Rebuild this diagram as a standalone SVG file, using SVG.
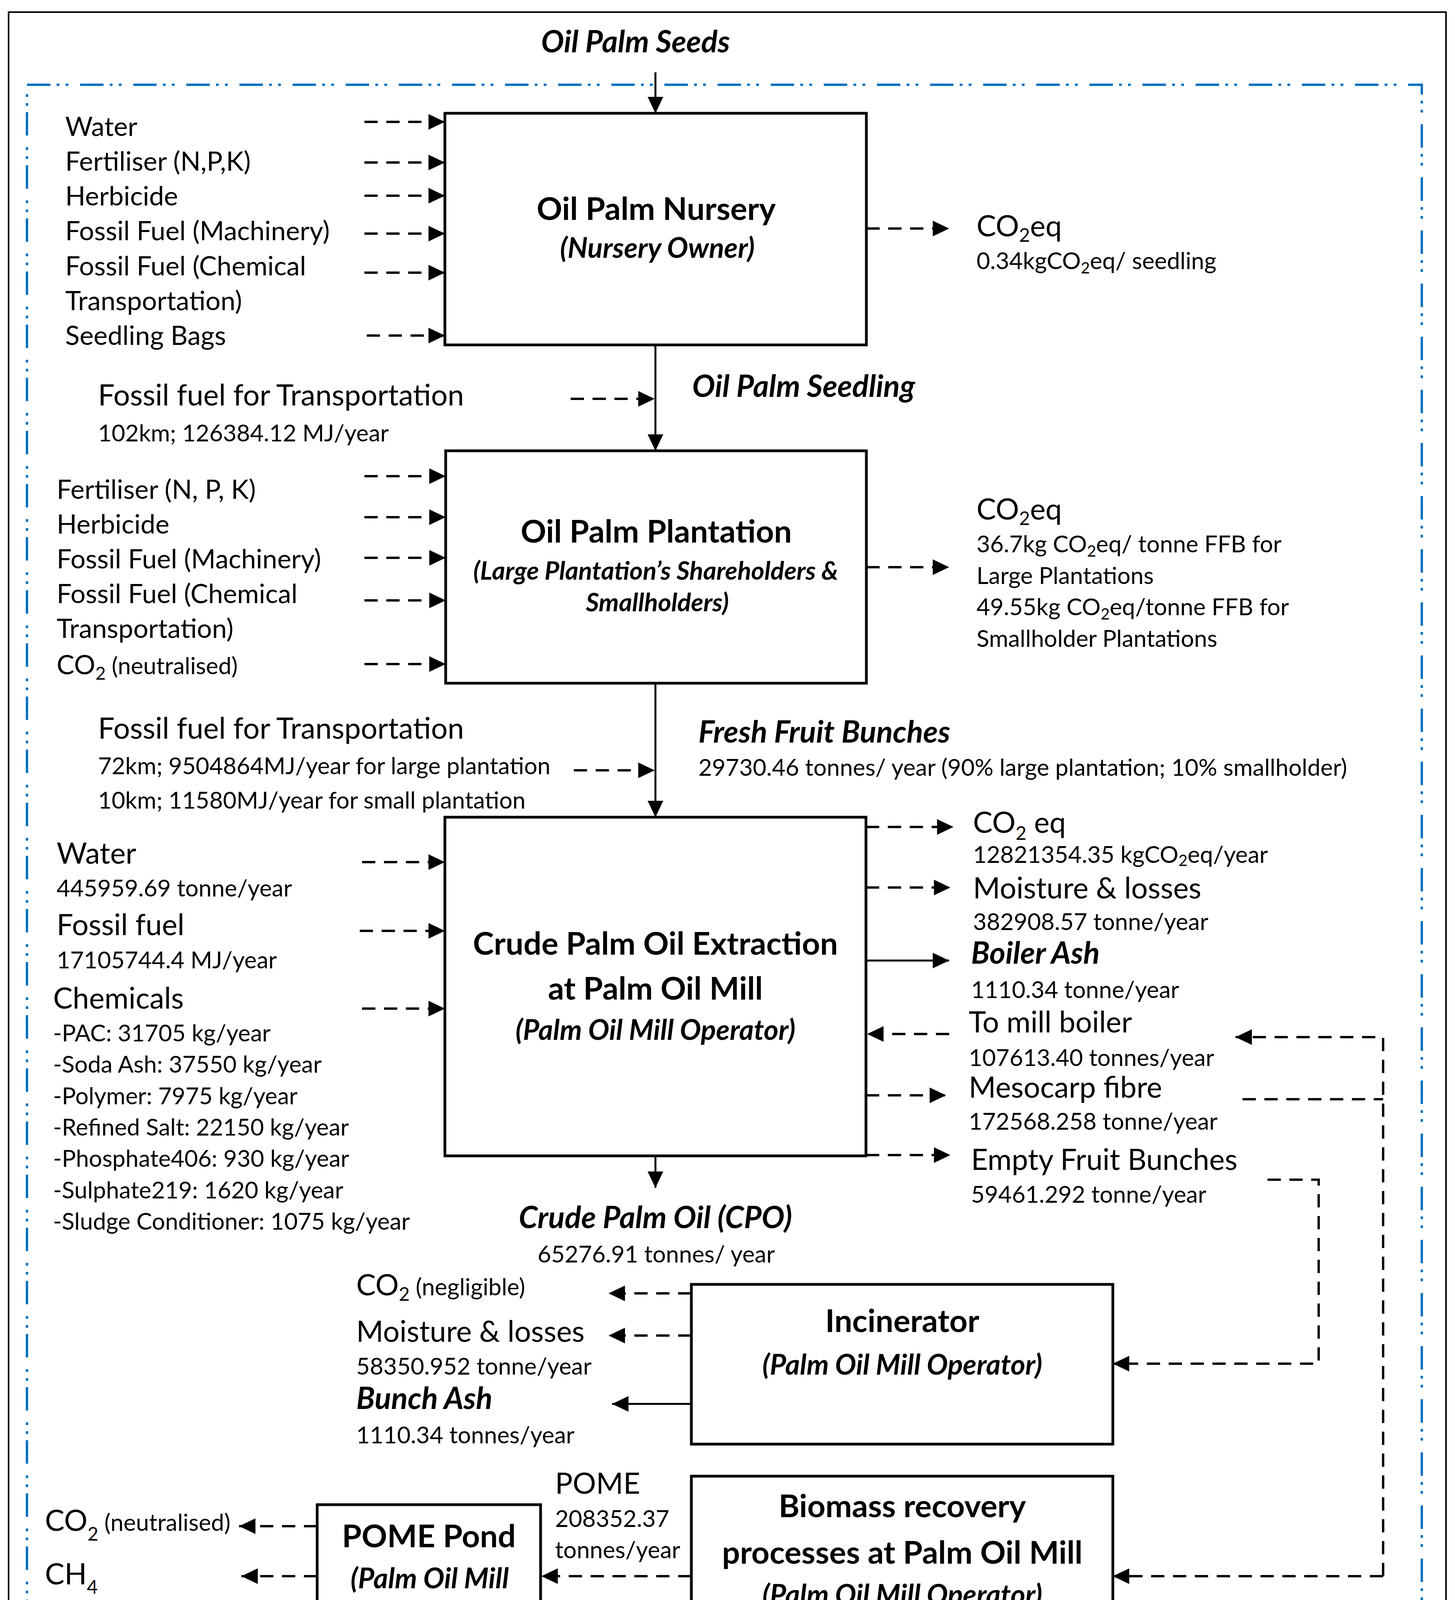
<svg xmlns="http://www.w3.org/2000/svg" width="3725" height="5298" viewBox="0 0 3725 5298">
<defs>
<marker id="ah" markerUnits="userSpaceOnUse" markerWidth="44" markerHeight="40" refX="42" refY="20" orient="auto" overflow="visible">
<path d="M0,0 L42,20 L0,40 z" fill="#000"/>
</marker>
</defs>
<style>
text { font-family: Lato, "Liberation Sans", sans-serif; fill: #000; }
.lg { font-size: 75px; }
.md { font-size: 68px; }
.sm { font-size: 60px; }
.bt { font-size: 81px; font-weight: bold; text-anchor: middle; }
.bs { font-size: 72px; font-weight: bold; font-style: italic; text-anchor: middle; }
.bs2 { font-size: 65px; }
.bi { font-size: 78px; font-weight: bold; font-style: italic; }
.leg { font-size: 70px; font-weight: bold; font-style: italic; }
.mid { text-anchor: middle; }
.box { fill: #fff; stroke: #000; stroke-width: 7; }
.sol { fill: none; stroke: #000; stroke-width: 5; }
.dsh { fill: none; stroke: #000; stroke-width: 6; stroke-dasharray: 34 22; }
.arr { marker-end: url(#ah); }
</style>
<rect width="3725" height="5298" fill="#fff"/>
<rect x="22" y="31" width="3680" height="5238" fill="none" stroke="#000" stroke-width="4"/>
<rect id="system-boundary" x="69" y="217" width="3571" height="4450" fill="none" stroke="#0070C0" stroke-width="6" stroke-dasharray="60 16 7 16 7 30"/>

<g id="connectors">
<path class="sol arr" d="M1678,185 V290"/>
<path class="sol arr" d="M1678,883 V1154"/>
<path class="sol arr" d="M1678,1749 V2092"/>
<path class="sol arr" d="M1678,2959 V3041"/>
<path class="sol arr" d="M2217,2459 H2430"/>
<path class="sol arr" d="M1770,3594 H1567"/>
<path class="sol arr" d="M1852,4296 V4405"/>
<path class="sol arr" d="M2310,4296 V4405"/>
<path class="sol arr" d="M2715,4296 V4748"/>
<path class="sol arr" d="M2455,4919 V5002"/>
<path class="sol arr" d="M91,5054 L364,5058"/>

<path class="dsh arr" d="M933,312 H1139"/>
<path class="dsh arr" d="M933,416 H1139"/>
<path class="dsh arr" d="M933,501 H1139"/>
<path class="dsh arr" d="M933,598 H1139"/>
<path class="dsh arr" d="M933,698 H1139"/>
<path class="dsh arr" d="M939,859 H1139"/>
<path class="dsh arr" d="M2218,585 H2430"/>
<path class="dsh arr" d="M1461,1021 H1676"/>
<path class="dsh arr" d="M933,1219 H1141"/>
<path class="dsh arr" d="M933,1324 H1141"/>
<path class="dsh arr" d="M933,1428 H1141"/>
<path class="dsh arr" d="M933,1537 H1141"/>
<path class="dsh arr" d="M933,1700 H1141"/>
<path class="dsh arr" d="M2218,1452 H2430"/>
<path class="dsh arr" d="M1469,1972 H1676"/>
<path class="dsh arr" d="M927,2207 H1139"/>
<path class="dsh arr" d="M921,2383 H1139"/>
<path class="dsh arr" d="M927,2582 H1139"/>
<path class="dsh arr" d="M2217,2117 H2441"/>
<path class="dsh arr" d="M2217,2272 H2433"/>
<path class="dsh arr" d="M2430,2647 H2220"/>
<path class="dsh arr" d="M2217,2804 H2422"/>
<path class="dsh arr" d="M2217,2957 H2433"/>
<path class="dsh" d="M3181,2814 H3541"/>
<path class="dsh arr" d="M3541,4035 V2655 H3163"/>
<path class="dsh arr" d="M3541,4035 H2849"/>
<path class="dsh arr" d="M3245,3020 H3376 V3491 H2849"/>
<path class="dsh arr" d="M1770,3311 H1558"/>
<path class="dsh arr" d="M1770,3419 H1558"/>
<path class="dsh arr" d="M1770,4035 H1386"/>
<path class="dsh arr" d="M812,3907 H612"/>
<path class="dsh arr" d="M812,4035 H618"/>
<path class="dsh arr" d="M1872,4852 H1715"/>
<path class="dsh arr" d="M3198,4839 H3038"/>
<path class="dsh arr" d="M91,5139 H354"/>
</g>

<g id="nursery">
<rect class="box" x="1139" y="290" width="1079" height="593"/>
<text class="bt" x="1680" y="563">Oil Palm Nursery</text>
<text class="bs" x="1683" y="660">(Nursery Owner)</text>
</g>

<g id="plantation">
<rect class="box" x="1141" y="1154" width="1077" height="595"/>
<text class="bt" x="1680" y="1389">Oil Palm Plantation</text>
<text class="bs bs2" x="1679" y="1484">(Large Plantation’s Shareholders &amp;</text>
<text class="bs bs2" x="1683" y="1565">Smallholders)</text>
</g>

<g id="mill">
<rect class="box" x="1139" y="2092" width="1078" height="867"/>
<text class="bt" x="1678" y="2444">Crude Palm Oil Extraction</text>
<text class="bt" x="1678" y="2559">at Palm Oil Mill</text>
<text class="bs" x="1678" y="2662">(Palm Oil Mill Operator)</text>
</g>

<g id="incinerator">
<rect class="box" x="1770" y="3288" width="1079" height="409"/>
<text class="bt" x="2310" y="3410">Incinerator</text>
<text class="bs" x="2310" y="3519">(Palm Oil Mill Operator)</text>
</g>

<g id="biomass">
<rect class="box" x="1770" y="3779" width="1079" height="517"/>
<text class="bt" x="2310" y="3884">Biomass recovery</text>
<text class="bt" x="2310" y="4003">processes at Palm Oil Mill</text>
<text class="bs" x="2310" y="4108">(Palm Oil Mill Operator)</text>
</g>

<g id="pome-pond">
<rect class="box" x="812" y="3852" width="572" height="372"/>
<text class="bt" x="1098" y="3961">POME Pond</text>
<text class="bs" x="1100" y="4066">(Palm Oil Mill</text>
<text class="bs" x="1098" y="4158">Operator)</text>
</g>

<g id="crushing">
<rect class="box" x="1872" y="4748" width="1166" height="171"/>
<text class="bt" x="2456" y="4858">Palm Kernel Crushing Plant</text>
</g>

<g id="labels">
<text class="bi mid" x="1627" y="134">Oil Palm Seeds</text>

<text class="md" x="167" y="348">Water</text>
<text class="md" x="167" y="437">Fertiliser (N,P,K)</text>
<text class="md" x="167" y="526">Herbicide</text>
<text class="md" x="167" y="615">Fossil Fuel (Machinery)</text>
<text class="md" x="167" y="705">Fossil Fuel (Chemical</text>
<text class="md" x="167" y="794">Transportation)</text>
<text class="md" x="167" y="883">Seedling Bags</text>

<text class="lg" x="2500" y="605">CO<tspan font-size="48" dy="14">2</tspan><tspan dy="-14">eq</tspan></text>
<text class="sm" x="2500" y="689">0.34kgCO<tspan font-size="40" dy="11">2</tspan><tspan dy="-11">eq/ seedling</tspan></text>

<text class="lg" x="251" y="1038">Fossil fuel for Transportation</text>
<text class="sm" x="251" y="1130">102km; 126384.12 MJ/year</text>
<text class="bi" x="1772" y="1016">Oil Palm Seedling</text>

<text class="md" x="145" y="1277">Fertiliser (N, P, K)</text>
<text class="md" x="145" y="1366">Herbicide</text>
<text class="md" x="145" y="1455">Fossil Fuel (Machinery)</text>
<text class="md" x="145" y="1544">Fossil Fuel (Chemical</text>
<text class="md" x="145" y="1633">Transportation)</text>
<text class="md" x="145" y="1726">CO<tspan font-size="46" dy="14">2</tspan><tspan class="sm" dy="-14"> (neutralised)</tspan></text>

<text class="lg" x="2500" y="1330">CO<tspan font-size="48" dy="14">2</tspan><tspan dy="-14">eq</tspan></text>
<text class="sm" x="2500" y="1414">36.7kg CO<tspan font-size="40" dy="11">2</tspan><tspan dy="-11">eq/ tonne FFB for</tspan></text>
<text class="sm" x="2500" y="1495">Large Plantations</text>
<text class="sm" x="2500" y="1575">49.55kg CO<tspan font-size="40" dy="11">2</tspan><tspan dy="-11">eq/tonne FFB for</tspan></text>
<text class="sm" x="2500" y="1656">Smallholder Plantations</text>

<text class="lg" x="251" y="1891">Fossil fuel for Transportation</text>
<text class="sm" x="251" y="1982">72km; 9504864MJ/year for large plantation</text>
<text class="sm" x="251" y="2070">10km; 11580MJ/year for small plantation</text>
<text class="bi" x="1788" y="1901">Fresh Fruit Bunches</text>
<text class="sm" x="1788" y="1986">29730.46 tonnes/ year (90% large plantation; 10% smallholder)</text>

<text class="lg" x="145" y="2211">Water</text>
<text class="sm" x="145" y="2295">445959.69 tonne/year</text>
<text class="lg" x="145" y="2394">Fossil fuel</text>
<text class="sm" x="145" y="2479">17105744.4 MJ/year</text>
<text class="lg" x="136" y="2582">Chemicals</text>
<text class="sm" x="136" y="2666">-PAC: 31705 kg/year</text>
<text class="sm" x="136" y="2746">-Soda Ash: 37550 kg/year</text>
<text class="sm" x="136" y="2827">-Polymer: 7975 kg/year</text>
<text class="sm" x="136" y="2907">-Refined Salt: 22150 kg/year</text>
<text class="sm" x="136" y="2987">-Phosphate406: 930 kg/year</text>
<text class="sm" x="136" y="3068">-Sulphate219: 1620 kg/year</text>
<text class="sm" x="136" y="3148">-Sludge Conditioner: 1075 kg/year</text>

<text class="bi mid" x="1678" y="3144">Crude Palm Oil (CPO)</text>
<text class="sm mid" x="1680" y="3232">65276.91 tonnes/ year</text>

<text class="lg" x="2491" y="2132">CO<tspan font-size="48" dy="18">2</tspan><tspan dy="-18"> eq</tspan></text>
<text class="sm" x="2491" y="2209">12821354.35 kgCO<tspan font-size="40" dy="8">2</tspan><tspan dy="-8">eq/year</tspan></text>
<text class="lg" x="2491" y="2300">Moisture &amp; losses</text>
<text class="sm" x="2491" y="2381">382908.57 tonne/year</text>
<text class="bi" x="2486" y="2467">Boiler Ash</text>
<text class="sm" x="2486" y="2555">1110.34 tonne/year</text>
<text class="lg" x="2480" y="2643">To mill boiler</text>
<text class="sm" x="2480" y="2729">107613.40 tonnes/year</text>
<text class="lg" x="2480" y="2810">Mesocarp fibre</text>
<text class="sm" x="2480" y="2892">172568.258 tonne/year</text>
<text class="lg" x="2486" y="2995">Empty Fruit Bunches</text>
<text class="sm" x="2486" y="3079">59461.292 tonne/year</text>

<text class="lg" x="912" y="3316">CO<tspan font-size="48" dy="14">2</tspan><tspan class="sm" dy="-14"> (negligible)</tspan></text>
<text class="lg" x="912" y="3435">Moisture &amp; losses</text>
<text class="sm" x="912" y="3519">58350.952 tonne/year</text>
<text class="bi" x="912" y="3607">Bunch Ash</text>
<text class="sm" x="912" y="3695">1110.34 tonnes/year</text>

<text class="lg" x="1421" y="3824">POME</text>
<text class="sm" x="1421" y="3909">208352.37</text>
<text class="sm" x="1421" y="3989">tonnes/year</text>

<text class="lg" x="115" y="3919">CO<tspan font-size="48" dy="25">2</tspan><tspan class="sm" dy="-25"> (neutralised)</tspan></text>
<text class="lg" x="115" y="4056">CH<tspan font-size="48" dy="24">4</tspan></text>
<text class="sm" x="115" y="4161">1438807.54</text>
<text class="sm" x="115" y="4238">kg/year</text>

<text class="bi" x="1339" y="4514">Palm Kernel Shell</text>
<text class="sm" x="1339" y="4597">8698.46 tonnes/year</text>
<text class="bi" x="2028" y="4514">Bio-fertiliser</text>
<text class="sm" x="2028" y="4597">3570.42 tonnes/year</text>
<text class="bi" x="2764" y="4504">Palm Kernel</text>
<text class="sm" x="2764" y="4590">12807.27 tonnes/year</text>
<text class="bi" x="216" y="4530" style="fill:#0070C0">System Boundary</text>

<text class="lg" x="1024" y="4874">Kernel Cake/ Meal</text>
<text class="lg" x="3260" y="4845">Electricity</text>
<text class="bi mid" x="2457" y="5116">Palm Kernel Oil</text>

<text class="leg" x="82" y="4995">Functional Unit = CO<tspan font-size="44" dy="12">2</tspan><tspan dy="-12">eq per tonne CPO</tspan></text>
<text class="leg" x="378" y="5081"><tspan font-style="normal">Output </tspan>(Product/ By-product)</text>
<text class="leg" x="385" y="5171">Input/ Output (Waste)</text>
</g>
</svg>
